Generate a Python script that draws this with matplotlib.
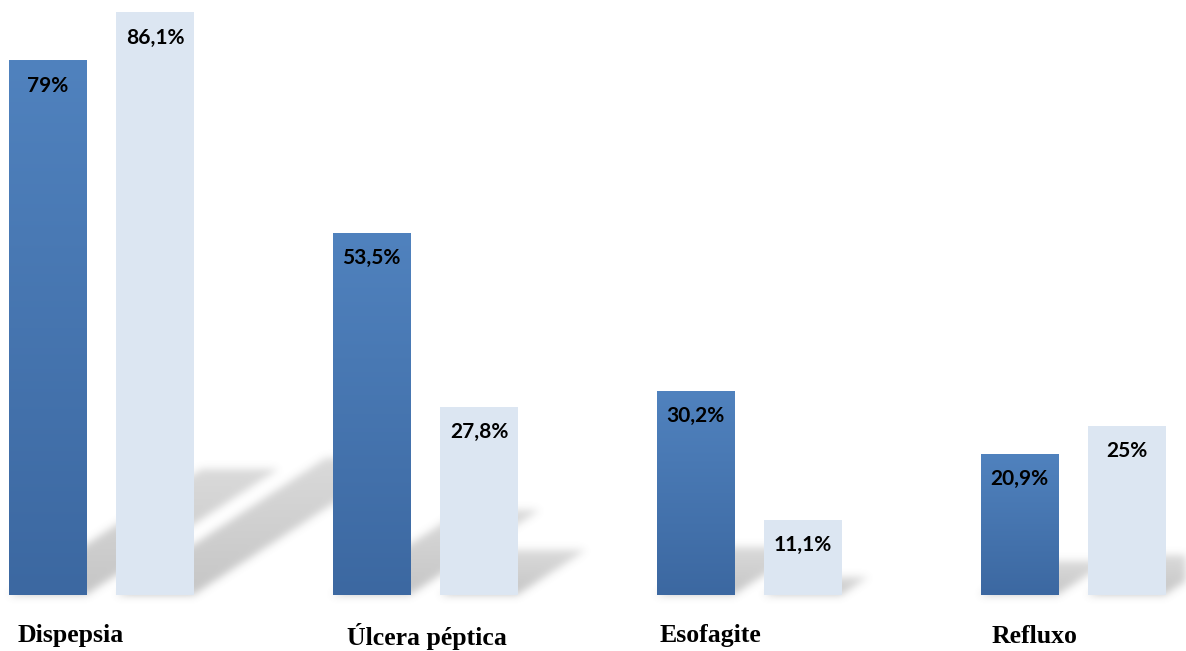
#!/usr/bin/env python3

import numpy as np
import matplotlib
matplotlib.use("Agg")
from matplotlib import pyplot as plt
from matplotlib.colors import LinearSegmentedColormap

categories = ["Dispepsia", "Úlcera péptica", "Esofagite", "Refluxo"]
series_a = [79.0, 53.5, 30.2, 20.9]
series_b = [86.1, 27.8, 11.1, 25.0]
labels_a = ["79%", "53,5%", "30,2%", "20,9%"]
labels_b = ["86,1%", "27,8%", "11,1%", "25%"]

# layout (category units / value units)
bar_w = 0.238
offset = 0.166
label_dx = [0.028, 0.043, 0.009, 0.034]
label_y = [-6.9, -7.4, -6.9, -7.1]
xlim = (-0.3125, 3.348)
ylim = (-8.27, 87.9)

dark_top = "#5082be"
dark_bottom = "#3c68a1"
light = "#dce6f2"


def shadow_image(lefts, heights, width):
    nx, ny = 1186, 651
    xs = np.linspace(xlim[0], xlim[1], nx)
    ys = np.linspace(ylim[1], ylim[0], ny)
    X, Y = np.meshgrid(xs, ys)
    mask = np.zeros_like(X)
    for left, h in zip(lefts, heights):
        dy = 0.235 * h
        dx = 0.0075 * h
        t = Y / dy
        shift = X - t * dx
        inside = (Y >= 0) & (Y <= dy) & (shift >= left) & (shift <= left + width)
        fade = np.where(inside, 1.0 - 0.35 * np.clip(t, 0, 1), 0.0)
        mask = np.maximum(mask, fade)
    # gaussian blur, separable
    sig = 4.0
    k = np.arange(-12, 13)
    kern = np.exp(-0.5 * (k / sig) ** 2)
    kern /= kern.sum()
    mask = np.apply_along_axis(lambda r: np.convolve(r, kern, mode="same"), 1, mask)
    mask = np.apply_along_axis(lambda c: np.convolve(c, kern, mode="same"), 0, mask)
    rgba = np.zeros((ny, nx, 4))
    rgba[..., :3] = 0.5
    rgba[..., 3] = mask * 0.45
    return rgba


def main():
    fig = plt.figure(figsize=(11.86, 6.51), dpi=100)
    ax = fig.add_axes([0, 0, 1, 1])
    ax.set_axis_off()

    x = np.arange(len(categories))
    xa = x - offset
    xb = x + offset

    lefts = list(xa - bar_w / 2) + list(xb - bar_w / 2)
    heights = series_a + series_b
    ax.imshow(shadow_image(lefts, heights, bar_w),
              extent=[xlim[0], xlim[1], ylim[0], ylim[1]],
              aspect="auto", zorder=0, interpolation="bilinear")

    bars_a = ax.bar(xa, series_a, bar_w, color=dark_top, zorder=2)
    ax.bar(xb, series_b, bar_w, color=light, zorder=2)

    cmap = LinearSegmentedColormap.from_list("grad", [dark_bottom, dark_top])
    grad = np.linspace(0, 1, 256).reshape(-1, 1)
    for b in bars_a:
        x0, w, h = b.get_x(), b.get_width(), b.get_height()
        im = ax.imshow(grad, cmap=cmap, origin="lower", aspect="auto",
                       extent=[x0, x0 + w, 0, h], zorder=3)
        im.set_clip_path(b)

    for xi, v, s in zip(xa, series_a, labels_a):
        ax.text(xi, v - 4.65, s, ha="center", va="baseline", fontsize=15,
                fontweight="bold", family="Lato", color="black", zorder=4)
    for xi, v, s in zip(xb, series_b, labels_b):
        ax.text(xi, v - 4.65, s, ha="center", va="baseline", fontsize=15,
                fontweight="bold", family="Lato", color="black", zorder=4)

    for i, name in enumerate(categories):
        ax.text(xa[i] - bar_w / 2 + label_dx[i], label_y[i], name, ha="left",
                va="baseline", fontsize=18.5, fontweight="bold",
                family="Liberation Serif", color="black")

    ax.set_xlim(*xlim)
    ax.set_ylim(*ylim)
    fig.savefig("out.png", dpi=100)


if __name__ == "__main__":
    main()
